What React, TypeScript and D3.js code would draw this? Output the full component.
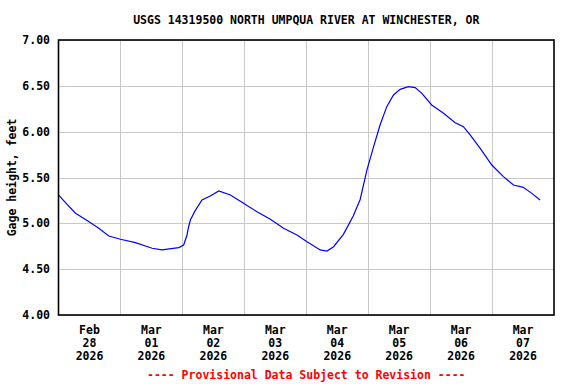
import React from "react";
import * as d3 from "d3";

const TITLE = "USGS 14319500 NORTH UMPQUA RIVER AT WINCHESTER, OR";
const Y_LABEL = "Gage height, feet";
const FOOTNOTE = "---- Provisional Data Subject to Revision ----";

// hours since 2026-02-28 00:00 and gage height (ft)
const hoursSinceStart = [
  0, 2.7, 6.6, 11.7, 15.6, 19.5, 24, 29.8, 36.3, 40.1, 46.6, 48.5, 49.8, 50.4,
  51.1, 52.8, 55.6, 58.8, 62.1, 66.6, 71.7, 76.9, 82.1, 87.2, 92.4, 96.3, 101.4,
  104.0, 106.6, 110.4, 114.2, 116.9, 119.5, 122.1, 124.6, 127.2, 129.8, 132.4,
  135.6, 138.2, 140.8, 144.6, 149.2, 153.7, 156.9, 159.5, 163.4, 167.9, 172.4,
  176.3, 180.1, 183.4, 186.6,
];
const gageHeight = [
  5.31, 5.225, 5.11, 5.02, 4.946, 4.862, 4.826, 4.79, 4.728, 4.71, 4.735, 4.764,
  4.873, 4.96, 5.036, 5.13, 5.255, 5.298, 5.353, 5.309, 5.218, 5.127, 5.044,
  4.946, 4.873, 4.8, 4.71, 4.698, 4.745, 4.88, 5.08, 5.26, 5.58, 5.836, 6.073,
  6.273, 6.4, 6.462, 6.491, 6.48, 6.418, 6.291, 6.2, 6.098, 6.054, 5.964, 5.818,
  5.636, 5.509, 5.418, 5.393, 5.327, 5.255,
];

const yTicks = [4.0, 4.5, 5.0, 5.5, 6.0, 6.5, 7.0];
const xTickMonths = ["Feb", "Mar", "Mar", "Mar", "Mar", "Mar", "Mar", "Mar"];
const xTickDays = ["28", "01", "02", "03", "04", "05", "06", "07"];
const xTickYears = ["2026", "2026", "2026", "2026", "2026", "2026", "2026", "2026"];

const START = new Date(2026, 1, 28, 0, 0);
const END = new Date(2026, 2, 8, 0, 0);

export default function App() {
  const W = 576, H = 384;
  const left = 58.5, right = 554, top = 40, bottom = 315;
  const font = "'DejaVu Sans Mono', monospace";
  const fs = 11.5;

  const x = d3.scaleTime().domain([START, END]).range([left, right]);
  const y = d3.scaleLinear().domain([4, 7]).range([bottom, top]);

  const data = hoursSinceStart.map((h, i) => ({
    t: d3.timeMinute.offset(START, Math.round(h * 60)),
    v: gageHeight[i],
  }));
  const line = d3
    .line<{ t: Date; v: number }>()
    .x((d) => x(d.t))
    .y((d) => y(d.v));

  const dayLines = d3.timeDay.range(d3.timeDay.offset(START, 1), END);
  const noonTicks = xTickDays.map((_, i) =>
    d3.timeHour.offset(START, i * 24 + 12)
  );

  return (
    <svg
      width={W}
      height={H}
      style={{ position: "absolute", left: 0, top: 0, background: "#fff" }}
      fontFamily={font}
      fontWeight="bold"
      fontSize={fs}
    >
      <rect x={0} y={0} width={W} height={H} fill="#fff" />
      <text x={(left + right) / 2} y={24} textAnchor="middle" fill="#000">
        {TITLE}
      </text>
      {yTicks.map((t) => (
        <line
          key={"gy" + t}
          x1={left}
          x2={right}
          y1={Math.round(y(t)) + 0.5}
          y2={Math.round(y(t)) + 0.5}
          stroke="#c8c8c8"
          strokeWidth={1}
        />
      ))}
      {dayLines.map((d, i) => (
        <line
          key={"gx" + i}
          x1={Math.round(x(d)) + 0.5}
          x2={Math.round(x(d)) + 0.5}
          y1={top}
          y2={bottom}
          stroke="#c8c8c8"
          strokeWidth={1}
        />
      ))}
      <path d={line(data) || ""} fill="none" stroke="#0000ff" strokeWidth={1.2} />
      <rect
        x={left}
        y={top}
        width={right - left}
        height={bottom - top}
        fill="none"
        stroke="#000"
        strokeWidth={1.6}
      />
      {yTicks.map((t) => (
        <text
          key={"yl" + t}
          x={50}
          y={y(t) + 4}
          textAnchor="end"
          fill="#000"
        >
          {d3.format(".2f")(t)}
        </text>
      ))}
      <text
        transform={`translate(16,${(top + bottom) / 2}) rotate(-90)`}
        textAnchor="middle"
        fill="#000"
      >
        {Y_LABEL}
      </text>
      {noonTicks.map((d, i) => (
        <g key={"xl" + i} transform={`translate(${x(d)},0)`}>
          <text x={0} y={334} textAnchor="middle" fill="#000">
            {xTickMonths[i]}
          </text>
          <text x={0} y={347} textAnchor="middle" fill="#000">
            {xTickDays[i]}
          </text>
          <text x={0} y={360} textAnchor="middle" fill="#000">
            {xTickYears[i]}
          </text>
        </g>
      ))}
      <text x={(left + right) / 2} y={379} textAnchor="middle" fill="#ff0000">
        {FOOTNOTE}
      </text>
    </svg>
  );
}
